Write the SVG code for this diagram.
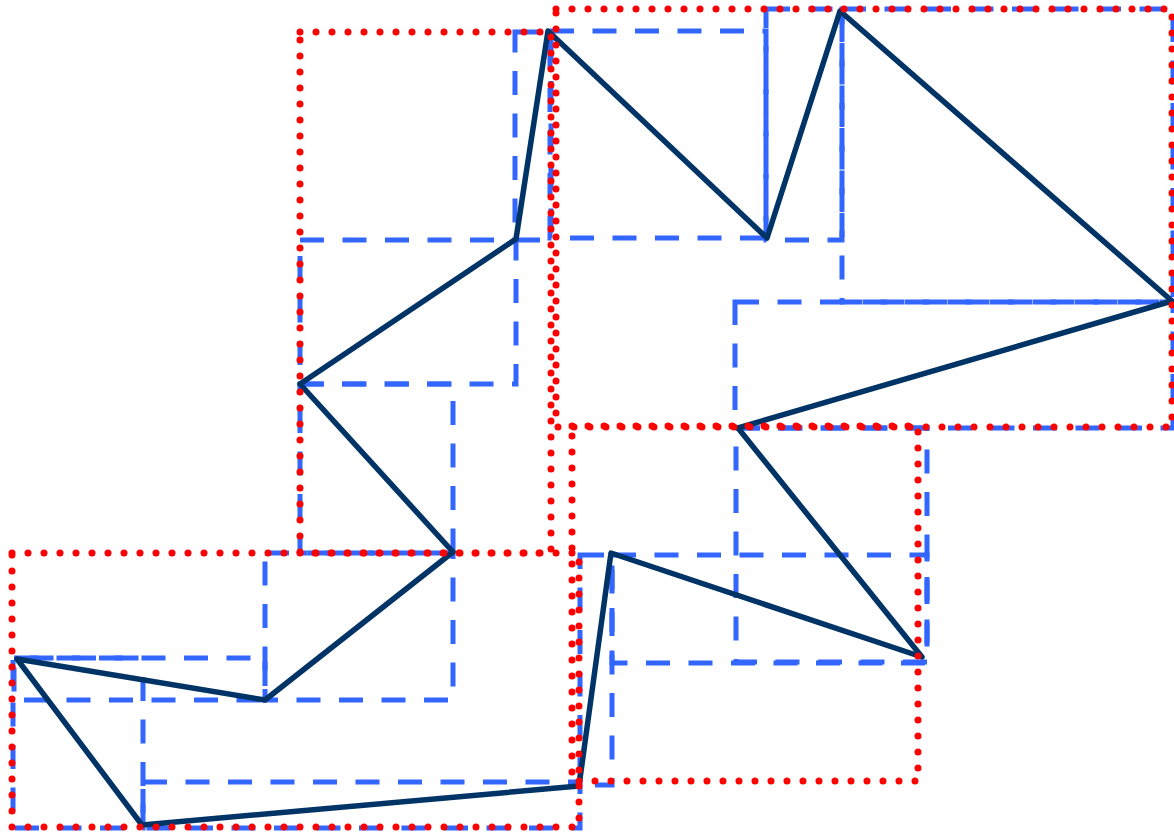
<svg xmlns="http://www.w3.org/2000/svg" width="1174" height="833" viewBox="0 0 1174 833">
<style>
.leaf{fill:none;stroke:#3366ff;stroke-width:5;stroke-dasharray:24 18.5}
.node{fill:none;stroke:#ff0000;stroke-width:7;stroke-dasharray:0 16;stroke-linecap:round}
.line{fill:none;stroke:#003366;stroke-width:5.5;stroke-linejoin:round}
</style>
<rect width="1174" height="833" fill="#ffffff"/>
<g id="leaves">
<rect id="b1" class="leaf" x="14" y="658" width="251" height="42"/>
<rect id="b2" class="leaf" x="265" y="553" width="188" height="147"/>
<rect id="b3" class="leaf" x="300" y="384" width="153" height="169"/>
<rect id="b4" class="leaf" x="300" y="240" width="216" height="144"/>
<rect id="b5" class="leaf" x="515" y="32" width="36" height="208"/>
<rect id="b6" class="leaf" x="550" y="31" width="216" height="207"/>
<rect id="b7" class="leaf" x="766" y="9" width="76" height="231"/>
<rect id="b8" class="leaf" x="842" y="9" width="331" height="293"/>
<rect id="b9" class="leaf" x="735" y="302" width="438" height="126"/>
<rect id="b10" class="leaf" x="736" y="428" width="191" height="234"/>
<rect id="b11" class="leaf" x="612" y="555" width="315" height="108"/>
<rect id="b12" class="leaf" x="580" y="555" width="32" height="230"/>
<rect id="b13" class="leaf" x="143" y="782" width="437" height="46"/>
<path id="b14" class="leaf" d="M143,677 V828 H13 V658 H143"/>
</g>
<g id="connectors">
<polygon class="line" points="17,659 265,700 453,552 300,384 516,239 548,31 767,238 840,11 1172,301 738,428 922,657 611,553 579,786 142,825"/>
</g>
<g id="nodes">
<rect id="r1" class="node" x="300" y="32" width="251" height="521"/>
<rect id="r2" class="node" x="556" y="9" width="616" height="418"/>
<rect id="r3" class="node" x="572" y="426" width="346" height="355"/>
<rect id="r4" class="node" x="12" y="553" width="567" height="274"/>
</g>
</svg>
